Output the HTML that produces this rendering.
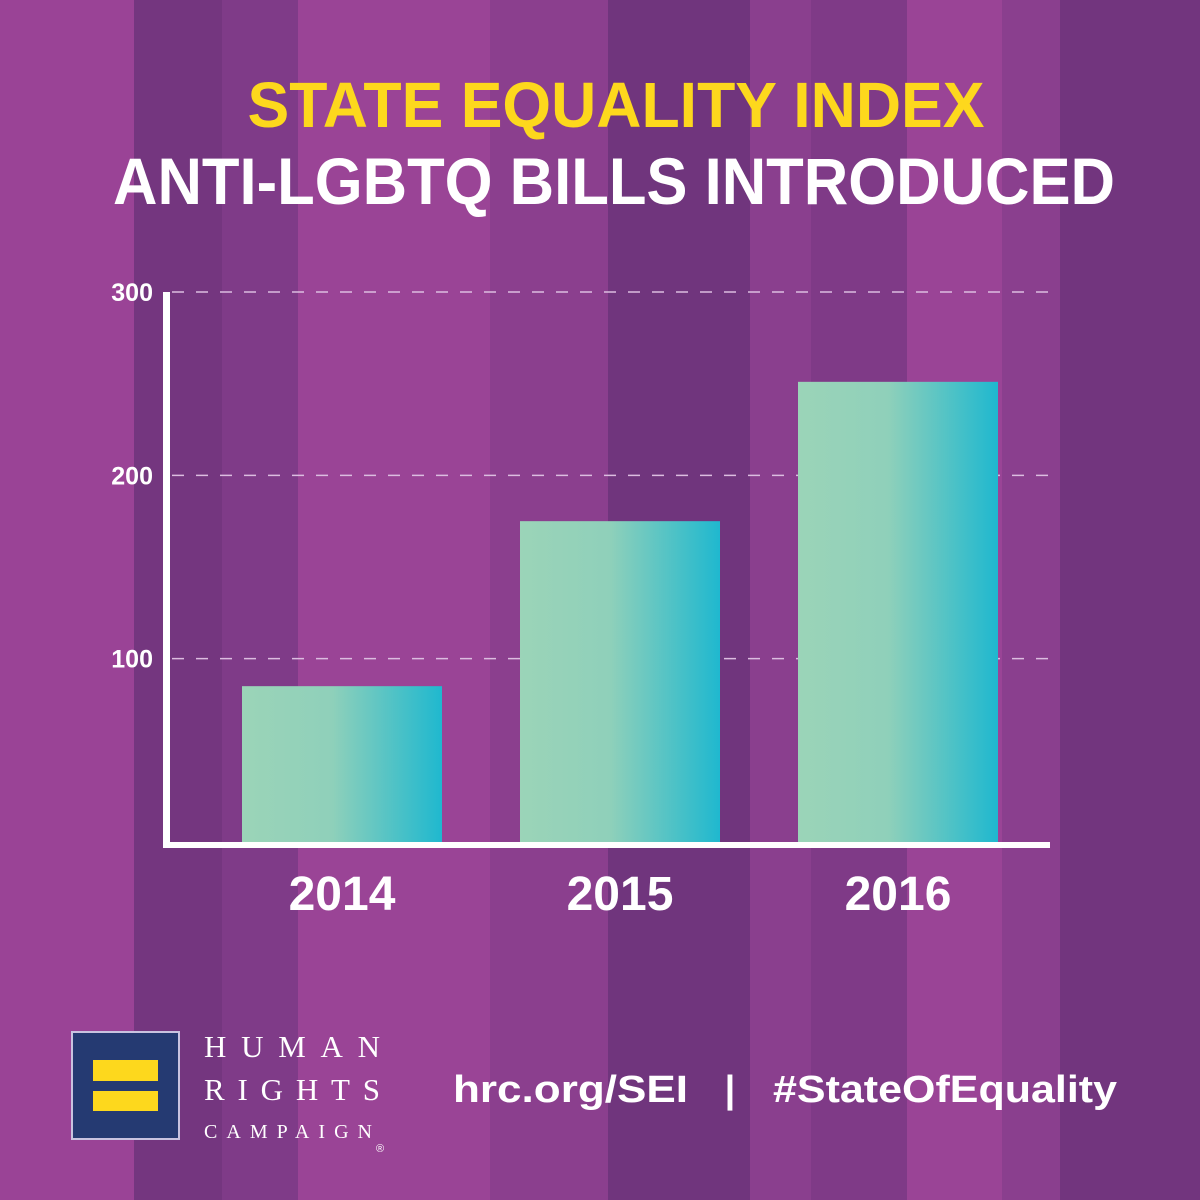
<!DOCTYPE html>
<html><head><meta charset="utf-8"><style>
html,body{margin:0;padding:0;}
body{width:1200px;height:1200px;overflow:hidden;}
svg{display:block;font-family:"Liberation Sans",sans-serif;}
</style></head><body>
<svg id="chart" width="1200" height="1200" viewBox="0 0 1200 1200" xmlns="http://www.w3.org/2000/svg">
<defs>
<linearGradient id="barGrad" x1="0" x2="1" y1="0" y2="0">
<stop offset="0" stop-color="#9bd4b8"/><stop offset="0.45" stop-color="#8fd0ba"/><stop offset="1" stop-color="#1fb8cf"/>
</linearGradient>
</defs>
<g id="bg"></g>
<text x="616" y="127" text-anchor="middle" font-weight="bold" font-size="64" fill="#fdd81d" textLength="737" lengthAdjust="spacingAndGlyphs">STATE EQUALITY INDEX</text>
<text x="614" y="204" text-anchor="middle" font-weight="bold" font-size="66" fill="#ffffff" textLength="1002" lengthAdjust="spacingAndGlyphs">ANTI-LGBTQ BILLS INTRODUCED</text>
<g id="grid"></g>
<g id="bars"></g>
<g id="yticks"></g>
<g id="xlabels"></g>
<rect x="163" y="292" width="7" height="556" fill="#fff"/>
<rect x="163" y="842" width="887" height="6" fill="#fff"/>
<g>
<rect x="72" y="1032" width="107" height="107" fill="#253a72" stroke="#c9c3e0" stroke-width="2"/>
<rect x="93" y="1060" width="65" height="21" fill="#fdd81d"/>
<rect x="93" y="1091" width="65" height="20" fill="#fdd81d"/>
<text x="204" y="1057" font-family="Liberation Serif,serif" font-size="31" fill="#fff" textLength="176" lengthAdjust="spacing">HUMAN</text>
<text x="204" y="1100" font-family="Liberation Serif,serif" font-size="31" fill="#fff" textLength="176" lengthAdjust="spacing">RIGHTS</text>
<text x="204" y="1138" font-family="Liberation Serif,serif" font-size="20" fill="#fff" textLength="168" lengthAdjust="spacing">CAMPAIGN</text>
<text x="376" y="1152" font-family="Liberation Sans,sans-serif" font-size="11" fill="#fff">®</text>
</g>
<text x="453" y="1102" font-weight="bold" font-size="38" fill="#fff" textLength="235" lengthAdjust="spacingAndGlyphs">hrc.org/SEI</text>
<text x="730" y="1102" text-anchor="middle" font-weight="bold" font-size="38" fill="#fff">|</text>
<text x="773" y="1102" font-weight="bold" font-size="38" fill="#fff" textLength="344" lengthAdjust="spacingAndGlyphs">#StateOfEquality</text>
</svg>
<script>
const categories = ["2014","2015","2016"];
const values = [85, 175, 251];
const yTicks = [100, 200, 300];
const stripeEdges = [0,134,222,298,490,608,750,811,907,1002,1060,1200];
const stripeColors = ["#9a4396","#74367f","#7f3b88","#9a4496","#8b3f8e","#70357d","#8a3f8e","#7f3a87","#9a4496","#8a3f8e","#72357e"];
const NS="http://www.w3.org/2000/svg";
function yScale(v){return 842 - v*(550/300);}
function xScale(i){return 242 + i*278;}
const BW=200;
const bg=document.getElementById('bg');
for(let i=0;i<stripeColors.length;i++){
  const r=document.createElementNS(NS,'rect');
  
  
  r.setAttribute('x',stripeEdges[i]);r.setAttribute('y',0);
  r.setAttribute('width',stripeEdges[i+1]-stripeEdges[i]);r.setAttribute('height',1200);
  r.setAttribute('fill',stripeColors[i]);bg.appendChild(r);
}
const grid=document.getElementById('grid'), yt=document.getElementById('yticks');
yTicks.forEach(t=>{
  const y=yScale(t);
  const l=document.createElementNS(NS,'line');
  
  
  l.setAttribute('x1',172);l.setAttribute('x2',1050);l.setAttribute('y1',y);l.setAttribute('y2',y);
  l.setAttribute('stroke','#dcbde0');l.setAttribute('stroke-width','1.5');l.setAttribute('stroke-dasharray','12 12');
  grid.appendChild(l);
  const tx=document.createElementNS(NS,'text');
  
  
  tx.setAttribute('x',153);tx.setAttribute('y',y+9);tx.setAttribute('text-anchor','end');
  tx.setAttribute('font-weight','bold');tx.setAttribute('font-size','25');tx.setAttribute('fill','#fff');
  tx.textContent=t;yt.appendChild(tx);
});
const bars=document.getElementById('bars'), xl=document.getElementById('xlabels');
values.forEach((v,i)=>{
  const r=document.createElementNS(NS,'rect');
  
  
  r.setAttribute('x',xScale(i));r.setAttribute('y',yScale(v));
  r.setAttribute('width',BW);r.setAttribute('height',842-yScale(v));
  r.setAttribute('fill','url(#barGrad)');bars.appendChild(r);
  const t=document.createElementNS(NS,'text');
  
  
  t.setAttribute('x',xScale(i)+BW/2);t.setAttribute('y',910);t.setAttribute('text-anchor','middle');
  t.setAttribute('font-weight','bold');t.setAttribute('font-size','48');t.setAttribute('fill','#fff');
  t.textContent=categories[i];xl.appendChild(t);
});
</script>
</body></html>
